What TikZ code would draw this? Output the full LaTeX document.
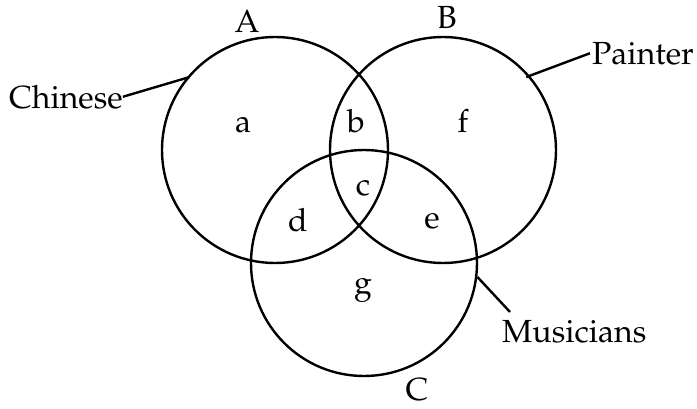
\documentclass[tikz,border=0pt]{standalone}
\usepackage[T1]{fontenc}
\usepackage{mathpazo}
\begin{document}
\begin{tikzpicture}[x=1pt,y=-1pt,
  set/.style={circle,draw,line width=2.4pt,minimum size=226pt,inner sep=0pt},
  lbl/.style={anchor=base,inner sep=0pt,font=\fontsize{32}{34}\selectfont},
  lead/.style={line width=2.4pt}]
\useasboundingbox (0,0) rectangle (697,408);
\node[set] (A) at (275,150) {};
\node[set] (B) at (443,150) {};
\node[set] (C) at (364,263) {};
\node[lbl] (tA) at (247,32) {A};
\node[lbl] (tB) at (447,28) {B};
\node[lbl] (tC) at (417,400) {C};
\node[lbl] (ra) at (243,132) {a};
\node[lbl] (rb) at (356,132) {b};
\node[lbl] (rf) at (463,132) {f};
\node[lbl] (rc) at (363,195) {c};
\node[lbl] (rd) at (298,231) {d};
\node[lbl] (re) at (432,228) {e};
\node[lbl] (rg) at (363,293) {g};
\node[lbl,anchor=base west] (chinese) at (9,108) {Chinese};
\node[lbl,anchor=base east] (painter) at (694,64) {Painter};
\node[lbl,anchor=base west] (musicians) at (502,342) {Musicians};
\coordinate (mus) at (510,312);
\draw[lead] (chinese.east) -- ([shift={(3,-1)}]A.141);
\draw[lead] ([xshift=-2pt]painter.west) -- ([shift={(-3,2)}]B.41);
\draw[lead] (C.-7) -- (mus);
\end{tikzpicture}
\end{document}
